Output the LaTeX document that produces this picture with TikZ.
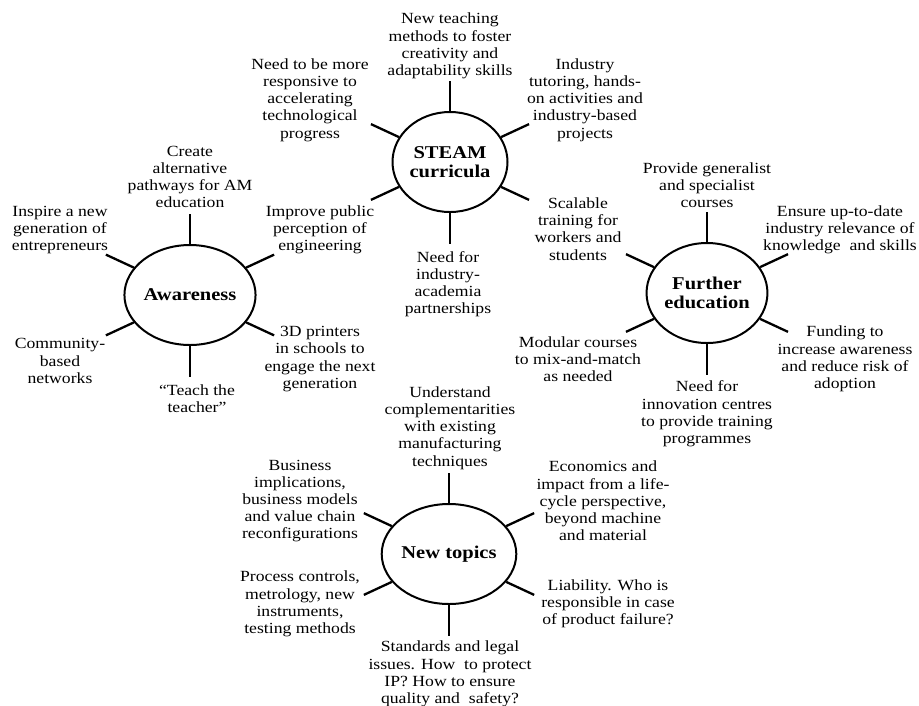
\documentclass[tikz,border=0pt]{standalone}
\usepackage{fontspec}
\setmainfont{Liberation Serif}[FakeStretch=1.14]
\usetikzlibrary{shapes.geometric}

\tikzset{
  hub/.style={ellipse, draw, line width=2pt, minimum width=115pt,
    minimum height=100pt, inner sep=0pt, align=center,
    font=\fontsize{18}{19}\selectfont\bfseries},
  note/.style={align=center, inner sep=0pt,
    font=\fontsize{15.5}{17.2}\selectfont},
  spoke/.style={line width=2.3pt},
}

\begin{document}
\begin{tikzpicture}[x=1pt, y=-1pt]
\useasboundingbox (0,0) rectangle (919,705);

% the four hubs
\node[hub] (aw) at (190,295) {Awareness};
\node[hub] (st) at (450,162) {STEAM\\curricula};
\node[hub] (fe) at (707,293) {Further\\education};
\node[hub] (nt) at (449,554) {New topics};

% six spokes around every hub
\foreach \h in {aw,st,fe,nt}{
  \draw[spoke] (\h.north) -- ++(0,-30);
  \draw[spoke] (\h.south) -- ++(0,31);
  \draw[spoke] (\h.26)  -- ++(28,-13);
  \draw[spoke] (\h.154) -- ++(-28,-13);
  \draw[spoke] (\h.206) -- ++(-28,13);
  \draw[spoke] (\h.-26) -- ++(28,13);
}

% Awareness
\node[note] (aw1) at (190,177) {Create\\alternative\\pathways for AM\\education};
\node[note] (aw2) at (60,230) {Inspire a new\\generation of\\entrepreneurs};
\node[note] (aw3) at (320,230) {Improve public\\perception of\\engineering};
\node[note] (aw4) at (60,361) {Community-\\based\\networks};
\node[note] (aw5) at (197,399) {``Teach the\\teacher''};
\node[note] (aw6) at (320,359) {3D printers\\in schools to\\engage the next\\generation};

% STEAM curricula
\node[note] (st1) at (450,46) {New teaching\\methods to foster\\creativity and\\adaptability skills};
\node[note] (st2) at (310,100) {Need to be more\\responsive to\\accelerating\\technological\\progress};
\node[note] (st3) at (585,100) {Industry\\tutoring, hands-\\on activities and\\industry-based\\projects};
\node[note] (st4) at (578,229) {Scalable\\training for\\workers and\\students};
\node[note] (st5) at (448,284) {Need for\\industry-\\academia\\partnerships};

% Further education
\node[note] (fe1) at (707,185) {Provide generalist\\and specialist\\courses};
\node[note] (fe2) at (840,230) {Ensure up-to-date\\industry relevance of\\knowledge\ \ and skills};
\node[note] (fe3) at (578,359) {Modular courses\\to mix-and-match\\as needed};
\node[note] (fe4) at (845,359) {Funding to\\increase awareness\\and reduce risk of\\adoption};
\node[note] (fe5) at (707,414) {Need for\\innovation centres\\to provide training\\programmes};

% New topics
\node[note] (nt1) at (450,428) {Understand\\complementarities\\with existing\\manufacturing\\techniques};
\node[note] (nt2) at (300,501) {Business\\implications,\\business models\\and value chain\\reconfigurations};
\node[note] (nt3) at (603,501) {Economics and\\impact from a life-\\cycle perspective,\\beyond machine\\and material};
\node[note] (nt4) at (300,604) {Process controls,\\metrology, new\\instruments,\\testing methods};
\node[note] (nt5) at (608,604) {Liability. Who is\\responsible in case\\of product failure?};
\node[note] (nt6) at (450,674) {Standards and legal\\issues. How\ \ to protect\\IP? How to ensure\\quality and\ \ safety?};
\end{tikzpicture}
\end{document}
